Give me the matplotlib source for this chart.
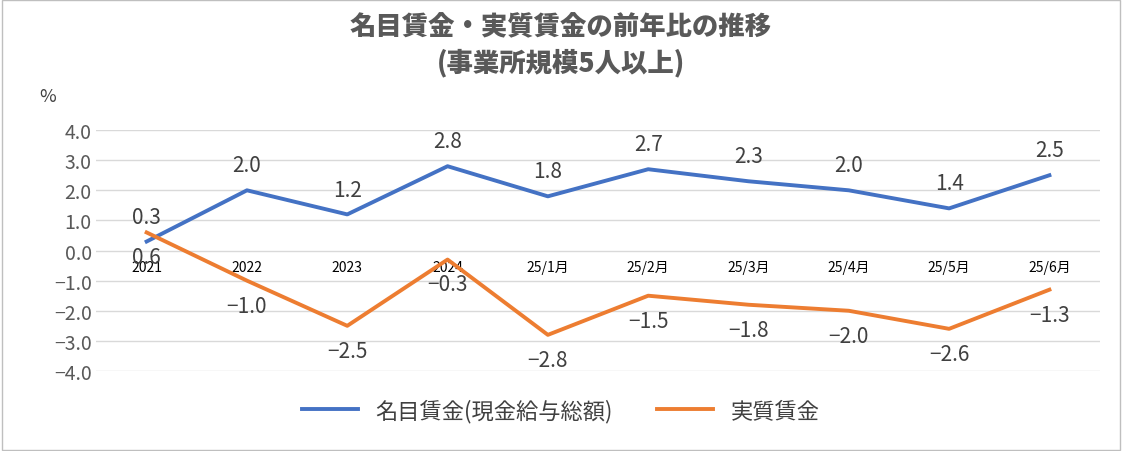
import matplotlib
matplotlib.use("Agg")
import matplotlib.pyplot as plt
from matplotlib.patches import Rectangle

plt.rcParams['font.family'] = ['Noto Sans CJK JP', 'DejaVu Sans']

categories = ["2021", "2022", "2023", "2024", "25/1月", "25/2月", "25/3月", "25/4月", "25/5月", "25/6月"]
nominal = [0.3, 2.0, 1.2, 2.8, 1.8, 2.7, 2.3, 2.0, 1.4, 2.5]
real = [0.6, -1.0, -2.5, -0.3, -2.8, -1.5, -1.8, -2.0, -2.6, -1.3]
yticks = [4.0, 3.0, 2.0, 1.0, 0.0, -1.0, -2.0, -3.0, -4.0]

fig = plt.figure(figsize=(11.22, 4.52), dpi=100)
fig.patches.append(Rectangle((0.002, 0.003), 0.996, 0.994, transform=fig.transFigure,
                             fill=False, edgecolor='#bfbfbf', lw=1))
ax = fig.add_axes([0.086, 0.177, 0.894, 0.533])
x = list(range(len(categories)))
blue, orange = '#4472C4', '#ED7D31'
ax.plot(x, nominal, color=blue, lw=2.8, label='名目賃金(現金給与総額)')
ax.plot(x, real, color=orange, lw=2.8, label='実質賃金')
for i, v in enumerate(nominal):
    ax.annotate(f"{v:.1f}", (i, v), xytext=(0, 10), textcoords='offset points',
                ha='center', va='bottom', fontsize=15, color='#404040')
for i, v in enumerate(real):
    ax.annotate(f"{v:.1f}".replace('-', '−'), (i, v), xytext=(0, -10), textcoords='offset points',
                ha='center', va='top', fontsize=15, color='#404040')
ax.set_xlim(-0.5, len(categories) - 0.5)
ax.set_ylim(-4.0, 4.0)
ax.set_yticks(yticks)
ax.set_yticklabels([f"{t:.1f}".replace('-', '−') for t in yticks], fontsize=14, color='#595959')
ax.set_xticks(x)
ax.set_xticklabels(categories, fontsize=13, color='#595959', fontweight='light')
ax.spines['bottom'].set_position(('data', 0))
for s in ['top', 'right', 'left', 'bottom']:
    ax.spines[s].set_visible(False)
ax.tick_params(length=0)
ax.tick_params(axis='x', pad=7)
ax.grid(axis='y', color='#d9d9d9', lw=1)
ax.set_axisbelow(True)
fig.text(0.035, 0.775, '%', fontsize=13, color='#404040')
fig.text(0.5, 0.9, '名目賃金・実質賃金の前年比の推移\n(事業所規模5人以上)', ha='center', va='center',
         fontsize=19, fontweight='black', color='#595959', linespacing=1.3)
fig.legend(loc='lower center', bbox_to_anchor=(0.5, 0.02), ncol=2, frameon=False,
           fontsize=16, labelcolor='#404040', handlelength=2.5, columnspacing=2)
fig.savefig('out.png', dpi=100)
